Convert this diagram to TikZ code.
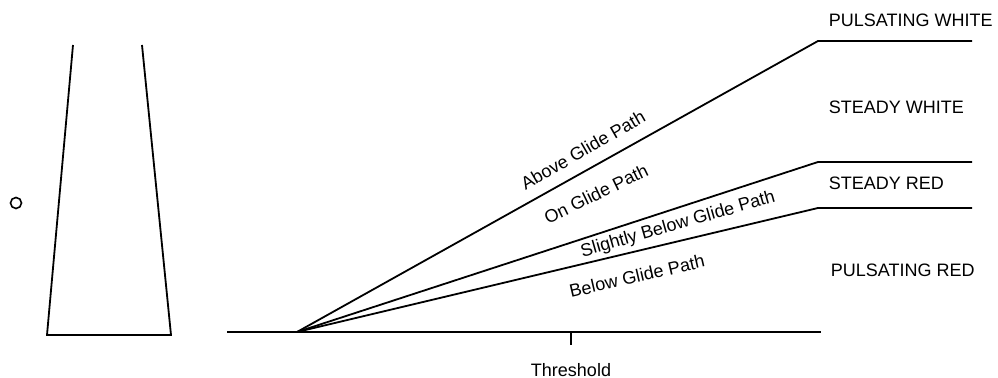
\documentclass[tikz,border=0pt]{standalone}
\usepackage{fontspec}
\setmainfont{Liberation Sans}
\usetikzlibrary{positioning}
\begin{document}
\begin{tikzpicture}[
   x = 0.5pt, y = -0.5pt,
   line width = 0.9pt,
every node/.style = {font=\fontsize{9}{10}\selectfont, inner sep=0pt},
      zone/.style = {anchor=west},
     slope/.style = {rotate=#1}
                        ]
\useasboundingbox (0,0) rectangle (998,378);
% light housing and source
\coordinate (hl) at (73,45);
\coordinate (bl) at (47,335);
\coordinate (br) at (171,335);
\coordinate (hr) at (142,45);
\draw (hl) -- (bl) -- (br) -- (hr);
\node (eye) [circle, draw, minimum size=5.5pt, line width=0.8pt] at (16,203) {};
% runway
\coordinate (rwl) at (227,332);
\coordinate (td)  at (297,332);
\coordinate (thr) at (571,332);
\coordinate (rwr) at (821,332);
\coordinate (tick) at (571,345);
\draw (rwl) -- (td) -- (thr) -- (rwr);
\draw (thr) -- (tick);
\node (threshold) at (571,370) {Threshold};
% sector boundaries
\coordinate (k1) at (818,41);
\coordinate (k2) at (818,162);
\coordinate (k3) at (818,208);
\coordinate (e1) at (972,41);
\coordinate (e2) at (972,162);
\coordinate (e3) at (972,208);
\draw (td) -- (k1) -- (e1);
\draw (td) -- (k2) -- (e2);
\draw (td) -- (k3) -- (e3);
\node (above)    [slope=30] at (583,150) {Above Glide Path};
\node (on)       [slope=26] at (596,194) {On Glide Path};
\node (slightly) [slope=16] at (678,225) {Slightly Below Glide Path};
\node (below)    [slope=13] at (637,276) {Below Glide Path};
\node (pw) [zone] at (828,20)  {PULSATING WHITE};
\node (sw) [zone] at (828,107) {STEADY WHITE};
\node (sr) [zone] at (828,183) {STEADY RED};
\node (pr) [zone] at (830,270) {PULSATING RED};
\end{tikzpicture}
\end{document}
